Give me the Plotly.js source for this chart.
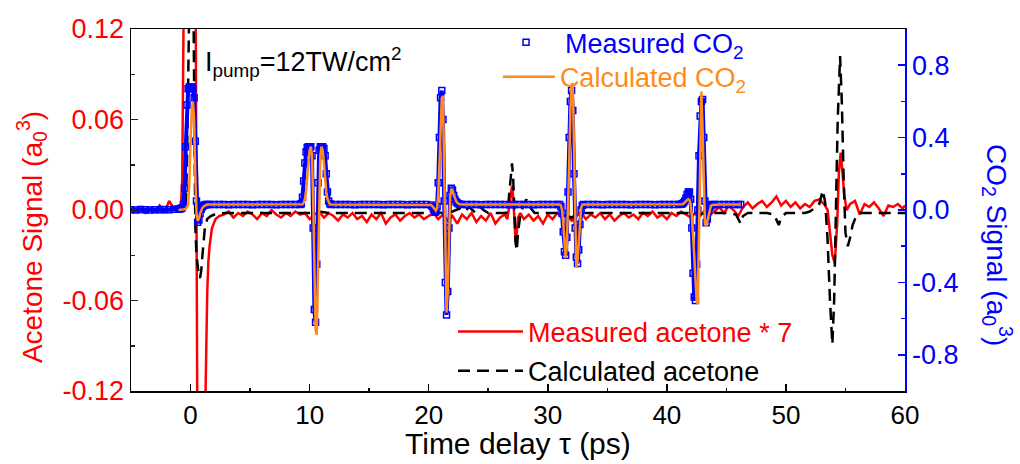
<!DOCTYPE html>
<html>
<head>
<meta charset="utf-8">
<script src="https://cdn.plot.ly/plotly-3.0.1.min.js"></script>
<style>html,body{margin:0;padding:0;background:#fff;}#chart{width:1020px;height:464px;}</style>
</head>
<body>
<div id="chart"></div>
<script>
// ---- Time grid shared by the CO2 series (ps)
var tCO2 = [-5,-4.6,-4.2,-3.8,-3.4,-3,-2.6,-2.2,-1.8,-1.4,-1,
  -0.9,-0.8,-0.7,-0.6,-0.5,-0.4,-0.3,-0.2,-0.1,0,0.1,0.2,0.3,0.4,0.5,0.6,0.7,0.8,0.9,1,1.1,1.2,1.3,1.4,1.6,
  2,2.4,2.8,3.2,3.6,4,4.4,4.8,5.2,5.6,6,6.4,6.8,7.2,7.6,8,8.4,8.8,
  9.2,9.3,9.4,9.5,9.6,9.7,9.8,9.9,10,10.1,10.2,10.3,10.4,10.5,10.6,10.7,10.8,10.9,11,11.1,11.2,11.3,11.4,11.5,11.6,11.7,11.8,
  12.2,12.6,13,13.4,13.8,14.2,14.6,15,15.4,15.8,16.2,16.6,17,17.4,17.8,18.2,18.6,19,19.4,19.8,
  20.2,20.3,20.4,20.5,20.6,20.7,20.8,20.9,21,21.1,21.2,21.3,21.4,21.5,21.6,21.7,21.8,21.9,22,22.1,22.2,22.3,22.4,22.5,22.6,22.8,
  23.2,23.6,24,24.4,24.8,25.2,25.6,26,26.4,26.8,27.2,27.6,28,28.4,28.8,29.2,29.6,30,30.4,30.8,
  31,31.1,31.2,31.3,31.4,31.5,31.6,31.7,31.8,31.9,32,32.1,32.2,32.3,32.4,32.5,32.6,32.7,32.8,32.9,33,
  33.4,33.8,34.2,34.6,35,35.4,35.8,36.2,36.6,37,37.4,37.8,38.2,38.6,39,39.4,39.8,40.2,40.6,41,
  41.2,41.3,41.4,41.5,41.6,41.7,41.8,41.9,42,42.1,42.2,42.3,42.4,42.5,42.6,42.7,42.8,42.9,43,43.1,43.2,43.3,43.4,43.5,43.6,43.7,43.8,44,
  44.4,44.8,45.2,45.6,46,46.2];

// Measured CO2 signal (a0^3, right axis)
var measuredCO2 = [0.002,0,0.003,0.001,0,0.002,0.001,0.003,0.002,0.004,0.005,
  0.006,0.008,0.012,0.03,0.12,0.35,0.58,0.67,0.68,0.68,0.68,0.67,0.62,0.38,0.05,-0.068,-0.055,-0.02,0.005,0.018,0.025,0.028,0.03,0.03,0.03,
  0.03,0.031,0.03,0.029,0.03,0.031,0.03,0.03,0.029,0.03,0.031,0.03,0.03,0.029,0.03,0.031,0.03,0.03,
  0.03,0.035,0.07,0.16,0.26,0.32,0.345,0.35,0.35,0.35,0.3,-0.1,-0.55,-0.62,-0.3,0.15,0.33,0.35,0.35,0.35,0.34,0.3,0.2,0.1,0.05,0.035,0.03,
  0.03,0.03,0.031,0.03,0.029,0.03,0.03,0.031,0.03,0.03,0.029,0.03,0.031,0.03,0.03,0.029,0.03,0.031,0.03,0.03,
  0.028,0.02,0.005,-0.013,-0.01,0.02,0.15,0.4,0.62,0.66,0.5,0.05,-0.4,-0.58,-0.45,-0.1,0.08,0.12,0.11,0.08,0.06,0.045,0.038,0.034,0.032,0.03,
  0.03,0.031,0.03,0.029,0.03,0.03,0.031,0.03,0.03,0.029,0.03,0.031,0.03,0.03,0.029,0.03,0.031,0.03,0.03,0.03,
  0.03,0.02,-0.02,-0.12,-0.23,-0.25,-0.15,0.1,0.4,0.6,0.66,0.55,0.2,-0.1,-0.26,-0.295,-0.22,-0.08,0,0.025,0.03,
  0.03,0.031,0.03,0.029,0.03,0.03,0.031,0.03,0.03,0.029,0.03,0.031,0.03,0.03,0.029,0.03,0.031,0.03,0.03,0.031,
  0.032,0.035,0.04,0.05,0.065,0.085,0.1,0.1,0.06,-0.1,-0.35,-0.48,-0.5,-0.3,0,0.3,0.52,0.6,0.61,0.4,0.05,-0.07,-0.05,-0.01,0.015,0.025,0.03,0.03,
  0.03,0.03,0.031,0.03,0.03,0.03];

// Calculated CO2 signal (a0^3, right axis)
var calculatedCO2 = [null,null,null,null,null,null,null,null,null,null,0,
  0,0,0.001,0.002,0.004,0.008,0.015,0.03,0.15,0.38,0.55,0.6,0.5,0.2,-0.02,-0.06,-0.05,-0.02,0,0.012,0.02,0.025,0.028,0.03,0.03,
  0.03,0.03,0.03,0.03,0.03,0.03,0.03,0.03,0.03,0.03,0.03,0.03,0.03,0.03,0.03,0.03,0.03,0.03,
  0.03,0.03,0.032,0.04,0.06,0.1,0.17,0.26,0.33,0.35,0.3,0.05,-0.35,-0.66,-0.69,-0.4,0.05,0.3,0.35,0.33,0.26,0.17,0.1,0.06,0.04,0.032,0.03,
  0.03,0.03,0.03,0.03,0.03,0.03,0.03,0.03,0.03,0.03,0.03,0.03,0.03,0.03,0.03,0.03,0.03,0.03,0.03,0.03,
  0.028,0.022,0.012,0,-0.004,0.01,0.08,0.25,0.48,0.62,0.63,0.2,-0.3,-0.567,-0.45,-0.1,0.07,0.116,0.11,0.085,0.065,0.05,0.04,0.035,0.032,0.03,
  0.03,0.03,0.03,0.03,0.03,0.03,0.03,0.03,0.03,0.03,0.03,0.03,0.03,0.03,0.03,0.03,0.03,0.03,0.03,0.03,
  0.03,0.025,0,-0.07,-0.19,-0.266,-0.2,0,0.25,0.55,0.69,0.7,0.35,-0.1,-0.32,-0.28,-0.17,-0.06,0.01,0.028,0.03,
  0.03,0.03,0.03,0.03,0.03,0.03,0.03,0.03,0.03,0.03,0.03,0.03,0.03,0.03,0.03,0.03,0.03,0.03,0.03,0.03,
  0.03,0.032,0.035,0.04,0.048,0.056,0.06,0.055,0.03,-0.03,-0.12,-0.25,-0.38,-0.5,-0.52,-0.1,0.45,0.655,0.45,0.1,-0.07,-0.09,-0.06,-0.02,0.01,0.022,0.028,0.03,
  0.03,0.03,0.03,0.03,0.03,0.03];

// Measured acetone signal x7 (a0^3, left axis)
var tAcetone = [-5,-4.6,-4.2,-3.8,-3.4,-3,-2.6,-2.2,-1.8,-1.4,-1,
  -0.8,-0.7,-0.6,-0.5,-0.4,0.2,0.4,0.5,0.6,0.8,1.1,1.2,1.3,1.4,1.5,1.6,1.8,2.1,2.4,
  2.8,3.2,3.6,4,4.4,4.8,5.2,5.6,6,6.4,6.8,7.2,7.6,8,8.4,8.8,9.2,9.6,10,10.4,
  10.8,11.2,11.6,12,12.4,12.8,13.2,13.6,14,14.4,14.8,15.2,15.6,16,16.4,16.8,17.2,17.6,18,18.4,
  18.8,19.2,19.6,20,20.4,20.8,21.2,21.6,22,22.4,22.8,23.2,23.6,24,24.4,24.8,25.2,25.6,26,26.4,
  26.6,26.8,26.9,27,27.1,27.2,27.3,27.4,27.5,27.7,
  28,28.4,28.8,29.2,29.6,30,30.4,30.8,31.2,31.6,32,32.4,32.8,33.2,33.6,34,34.4,34.8,35.2,35.6,
  36,36.4,36.8,37.2,37.6,38,38.4,38.8,39.2,39.6,40,40.4,40.8,41.2,41.6,42,42.4,42.8,43.2,43.6,
  44,44.4,44.8,45.2,45.6,46,46.4,46.8,47.2,47.6,48,48.4,48.8,49.2,49.6,50,50.4,50.8,51.2,51.6,
  52,52.4,52.8,53.2,53.5,53.7,53.9,54.1,54.3,54.45,54.6,54.75,54.9,55.1,
  55.4,55.8,56.2,56.6,57,57.4,57.8,58.2,58.6,59,59.4,59.8,60];
var measuredAcetone = [0.001,-0.001,0.002,-0.002,0.001,-0.001,0.003,-0.002,0.006,0.001,0.002,
  0.003,0.02,0.09,0.2,0.3,0.3,0.2,0,-0.2,-0.3,-0.3,-0.15,-0.09,-0.055,-0.034,-0.024,-0.012,-0.006,-0.004,
  -0.003,-0.001,-0.005,-0.002,-0.004,-0.001,-0.003,-0.006,-0.002,-0.004,0,-0.003,-0.005,-0.002,-0.004,-0.001,-0.003,-0.002,-0.006,-0.003,
  -0.001,-0.005,-0.002,-0.004,-0.007,-0.003,-0.005,-0.002,-0.006,-0.004,-0.008,-0.003,-0.006,-0.002,-0.009,-0.005,-0.003,-0.007,-0.004,-0.002,
  -0.005,-0.003,-0.006,-0.004,-0.002,-0.006,-0.003,-0.007,-0.004,-0.009,-0.003,-0.006,-0.002,-0.008,-0.004,-0.007,-0.002,-0.009,-0.005,-0.003,
  -0.006,0.004,0.012,0.016,0.008,-0.01,-0.021,-0.015,-0.005,-0.002,
  -0.006,-0.003,-0.007,-0.004,-0.009,-0.003,-0.006,-0.002,-0.005,-0.003,-0.007,-0.004,-0.002,-0.006,-0.003,-0.005,-0.002,-0.006,-0.003,-0.007,
  -0.004,-0.002,-0.005,-0.003,-0.006,-0.002,-0.004,-0.001,-0.005,-0.003,-0.006,-0.002,-0.004,-0.001,-0.003,-0.005,-0.002,-0.004,0,-0.003,
  -0.001,0.002,-0.002,0.003,0,-0.004,0.002,0.005,0.001,0.004,0.006,0.002,0.005,0.009,0.003,0.006,0.002,0.005,0.001,0.004,
  0.002,0.006,0.007,0.004,0,-0.015,-0.03,-0.035,-0.01,0.025,0.038,0.025,0.01,0,
  0.004,0.006,-0.003,0.004,0.002,0.005,0.001,-0.004,0.003,0.002,0.004,0.001,0.003];

// Calculated acetone signal (a0^3, left axis)
var tCalcAcetone = [-5,-4.2,-3.4,-2.6,-1.8,-1,-0.6,-0.4,-0.3,-0.2,-0.1,0,0.1,0.2,0.3,0.4,0.5,0.6,0.7,0.8,0.9,1,1.1,1.2,1.4,1.7,2,
  2.8,3.6,4.4,5.2,6,6.8,7.6,8.4,9.2,10,10.8,11.6,12.4,13.2,14,14.8,15.6,16.4,17.2,18,18.8,19.6,20.4,21.2,22,
  22.6,23,23.4,23.8,24.2,24.6,25,25.6,26.2,
  26.5,26.7,26.85,27,27.1,27.2,27.3,27.4,27.5,27.7,28,28.2,28.5,28.9,
  29.6,30.4,31.2,31.6,32,32.4,33,33.8,34.6,35.4,36.2,37,37.8,38.6,39.4,40.2,41,41.8,42.6,43.4,44.2,45,
  45.8,46,46.2,46.4,46.8,47.6,48.4,49,49.2,49.4,49.6,50,50.8,51.6,52,52.4,52.8,
  53.1,53.3,53.5,53.7,53.9,54.05,54.2,54.35,54.55,54.7,54.85,55,55.2,55.4,55.6,55.9,56.2,57,57.8,58.6,59.4,60];
var calculatedAcetone = [0,0,0,0,0,0,0.001,0.005,0.03,0.1,0.2,0.25,0.25,0.18,0.06,-0.01,-0.03,-0.04,-0.044,-0.045,-0.04,-0.03,-0.02,-0.012,-0.006,-0.004,-0.003,
  -0.002,-0.002,-0.002,-0.002,-0.002,-0.002,-0.002,-0.002,-0.002,-0.002,-0.001,-0.002,-0.002,-0.002,-0.002,-0.002,-0.002,-0.002,-0.002,-0.002,-0.002,-0.002,-0.001,-0.002,-0.001,
  0.001,-0.001,0.002,-0.001,0.003,0,-0.002,-0.002,-0.002,
  -0.002,0.005,0.02,0.031,0.02,-0.005,-0.022,-0.027,-0.015,-0.003,0.004,0.007,0.002,-0.002,
  -0.002,-0.002,-0.002,-0.004,-0.005,-0.003,-0.002,-0.002,-0.002,-0.002,-0.002,-0.002,-0.002,-0.002,-0.002,-0.002,-0.002,-0.002,-0.003,-0.002,-0.002,-0.002,
  -0.003,-0.006,-0.009,-0.004,-0.002,-0.002,-0.002,-0.003,-0.007,-0.01,-0.005,-0.002,-0.002,-0.002,-0.001,0.001,0.004,
  0.013,0.005,-0.02,-0.06,-0.089,-0.06,0,0.06,0.102,0.07,0.02,-0.015,-0.024,-0.018,-0.01,-0.004,-0.002,-0.002,-0.002,-0.002,-0.002,-0.002];

// Tick values / labels
var xTicks = [0,10,20,30,40,50,60];
var xTickText = ['0','10','20','30','40','50','60'];
var xMinor = [-5,5,15,25,35,45,55];
var yLeftTicks = [-0.12,-0.06,0,0.06,0.12];
var yLeftText = ['-0.12','-0.06','0.00','0.06','0.12'];
var yLeftMinor = [-0.09,-0.03,0.03,0.09];
var yRightTicks = [-0.8,-0.4,0,0.4,0.8];
var yRightText = ['-0.8','-0.4','0.0','0.4','0.8'];
var yRightMinor = [-0.6,-0.2,0.2,0.6];

var FONT = 'Liberation Sans, Arial, sans-serif';
var BLUE = '#0000ff', RED = '#ff0000', ORANGE = '#ff8c1a', BLACK = '#000000';

var traces = [
  {x: tAcetone, y: measuredAcetone, type: 'scatter', mode: 'lines', name: 'Measured acetone * 7',
   line: {color: RED, width: 2.5}, legend: 'legend3', yaxis: 'y', xaxis: 'x'},
  {x: tCalcAcetone, y: calculatedAcetone, type: 'scatter', mode: 'lines', name: 'Calculated acetone',
   line: {color: BLACK, width: 2.5, dash: '12px,7px'}, legend: 'legend4', yaxis: 'y', xaxis: 'x'},
  {x: tCO2, y: measuredCO2, type: 'scatter', mode: 'lines', showlegend: false, hoverinfo: 'skip',
   line: {color: BLUE, width: 4}, yaxis: 'y2', xaxis: 'x'},
  {x: tCO2, y: measuredCO2, type: 'scatter', mode: 'markers', name: 'Measured CO<sub>2</sub>',
   marker: {symbol: 'square-open', size: 6, color: BLUE, line: {color: BLUE, width: 1.5}},
   legend: 'legend', yaxis: 'y2', xaxis: 'x'},
  {x: tCO2, y: calculatedCO2, type: 'scatter', mode: 'lines', name: 'Calculated CO<sub>2</sub>',
   line: {color: ORANGE, width: 2.5}, connectgaps: false, legend: 'legend2', yaxis: 'y2', xaxis: 'x'}
];

function leg(x, y, color, w) {
  return {x: x, y: y, xanchor: 'left', yanchor: 'middle', bgcolor: 'rgba(0,0,0,0)', borderwidth: 0,
          itemwidth: w, font: {family: FONT, size: 27, color: color}};
}

var layout = {
  width: 1020, height: 464,
  margin: {l: 131, r: 115, t: 29, b: 73, pad: 0},
  paper_bgcolor: '#ffffff', plot_bgcolor: '#ffffff',
  font: {family: FONT, size: 26, color: BLACK},
  showlegend: true,
  xaxis: {
    range: [-5, 60], tickmode: 'array', tickvals: xTicks, ticktext: xTickText,
    ticks: 'inside', ticklen: 7, tickwidth: 1.5, tickcolor: BLACK,
    minor: {tickmode: 'array', tickvals: xMinor, ticks: 'inside', ticklen: 3, tickwidth: 1.5, tickcolor: BLACK},
    showline: true, linecolor: BLACK, linewidth: 1.5, mirror: true,
    showgrid: false, zeroline: false, tickfont: {family: FONT, size: 26, color: BLACK}
  },
  xaxis2: {
    range: [-5, 60], overlaying: 'x', anchor: 'y', side: 'bottom', tickmode: 'array', tickvals: xTicks,
    ticks: 'outside', ticklen: 6, tickwidth: 1.5, tickcolor: BLACK, showticklabels: false,
    minor: {tickmode: 'array', tickvals: xMinor, ticks: 'outside', ticklen: 4, tickwidth: 1.5, tickcolor: BLACK},
    showline: false, showgrid: false, zeroline: false
  },
  yaxis: {
    range: [-0.12, 0.12], tickmode: 'array', tickvals: yLeftTicks, ticktext: yLeftText,
    ticks: 'inside', ticklen: 7, tickwidth: 1.5, tickcolor: '#222222',
    minor: {tickmode: 'array', tickvals: yLeftMinor, ticks: 'inside', ticklen: 4, tickwidth: 1.5, tickcolor: '#222222'},
    showline: true, linecolor: BLACK, linewidth: 1.5,
    showgrid: false, zeroline: false, tickfont: {family: FONT, size: 27, color: RED}
  },
  yaxis2: {
    range: [-1, 1], overlaying: 'y', side: 'right', anchor: 'x', tickmode: 'array', tickvals: yRightTicks, ticktext: yRightText,
    ticks: 'inside', ticklen: 7, tickwidth: 1.5, tickcolor: BLUE,
    minor: {tickmode: 'array', tickvals: yRightMinor, ticks: 'inside', ticklen: 4, tickwidth: 1.5, tickcolor: BLUE},
    showline: true, linecolor: BLUE, linewidth: 1.5,
    showgrid: false, zeroline: false, tickfont: {family: FONT, size: 27, color: BLUE}
  },
  legend: leg(0.46, 0.962, BLUE, 68),
  legend2: leg(0.474, 0.867, ORANGE, 52),
  legend3: leg(0.416, 0.163, RED, 65),
  legend4: leg(0.416, 0.055, BLACK, 65),
  annotations: [
    {text: 'Acetone Signal (a<sub>0</sub><sup>3</sup>)', xref: 'paper', yref: 'paper', x: -0.128, y: 0.425,
     xanchor: 'center', yanchor: 'middle', textangle: -90, showarrow: false, font: {family: FONT, size: 28, color: RED}},
    {text: 'CO<sub>2</sub> Signal (a<sub>0</sub><sup>3</sup>)', xref: 'paper', yref: 'paper', x: 1.119, y: 0.403,
     xanchor: 'center', yanchor: 'middle', textangle: 90, showarrow: false, font: {family: FONT, size: 28, color: BLUE}},
    {text: 'Time delay \u03c4 (ps)', xref: 'paper', yref: 'paper', x: 0.5, y: -0.1464,
     xanchor: 'center', yanchor: 'middle', showarrow: false, font: {family: FONT, size: 30, color: BLACK}},
    {text: 'I<sub>pump</sub>=12TW/cm<sup>2</sup>', xref: 'paper', yref: 'paper', x: 0.093, y: 0.91,
     xanchor: 'left', yanchor: 'middle', showarrow: false, font: {family: FONT, size: 27, color: BLACK}}
  ]
};

Plotly.newPlot('chart', traces, layout, {staticPlot: true, displayModeBar: false});
</script>
</body>
</html>
